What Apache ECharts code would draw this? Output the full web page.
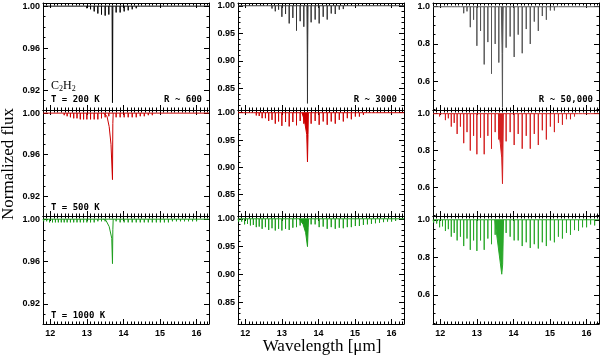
<!DOCTYPE html>
<html>
<head>
<meta charset="utf-8">
<script src="https://cdn.jsdelivr.net/npm/echarts@6/dist/echarts.min.js"></script>
<style>
  html, body { margin: 0; padding: 0; background: #fff; }
  #chart { width: 600px; height: 360px; }
</style>
</head>
<body>
<div id="chart"></div>
<script>
    // line centres (micron), R branch and P branch
    const rLines = [11.82, 11.90, 11.98, 12.06, 12.14, 12.22, 12.30, 12.38, 12.46, 12.55, 12.64,
                    12.73, 12.82, 12.91, 13.00, 13.10, 13.20, 13.30, 13.40, 13.50, 13.60];
    const pLines = [13.80, 13.91, 14.02, 14.13, 14.24, 14.35, 14.46, 14.57, 14.68, 14.79, 14.90, 15.01,
                    15.12, 15.23, 15.34, 15.45, 15.56, 15.67, 15.78, 15.89, 16.00, 16.11, 16.22];

    // R ~ 600
    const lo200R = [1, 1, 1, 1, 1, 1, 1, 1, 1, 1, 1, 1, 1, 0.999, 0.998, 0.997, 0.995, 0.993, 0.992, 0.991, 0.992];
    const lo200P = [0.994, 0.994, 0.995, 0.996, 0.997, 0.998, 0.999, 1, 1, 1, 1, 1, 1, 1, 1, 1, 1, 1, 1, 1, 1, 1, 1];
    const lo200Qx = [13.69, 13.70, 13.71];
    const lo200Qy = [1, 0.908, 1];

    const lo500R = [1, 1, 1, 1, 1, 1, 0.999, 0.998, 0.997, 0.996, 0.995, 0.995, 0.994, 0.994, 0.994, 0.994, 0.994, 0.994, 0.995, 0.996, 0.997];
    const lo500P = [0.996, 0.996, 0.996, 0.996, 0.996, 0.996, 0.997, 0.997, 0.998, 0.998, 0.999, 1, 1, 1, 1, 1, 1, 1, 1, 1, 1, 1, 1];
    const lo500Qx = [13.45, 13.55, 13.61, 13.66, 13.70, 13.71, 13.72];
    const lo500Qy = [1, 0.997, 0.987, 0.970, 0.936, 0.990, 1];

    const lo1000R = [0.998, 0.998, 0.997, 0.997, 0.997, 0.997, 0.997, 0.997, 0.997, 0.997, 0.997, 0.997, 0.997, 0.997, 0.997, 0.997, 0.997, 0.998, 0.998, 0.998, 0.999];
    const lo1000P = [0.998, 0.997, 0.997, 0.997, 0.997, 0.997, 0.997, 0.997, 0.997, 0.997, 0.997, 0.997, 0.997, 0.997, 0.998, 0.998, 0.998, 0.998, 0.998, 0.998, 0.998, 0.999, 0.999];
    const lo1000Qx = [13.45, 13.52, 13.61, 13.68, 13.70, 13.71, 13.72];
    const lo1000Qy = [1, 0.999, 0.993, 0.982, 0.958, 0.990, 1];

    // R ~ 3000
    const mid200R = [1, 1, 1, 1, 1, 1, 1, 1, 1, 0.999, 0.997, 0.995, 0.990, 0.993, 0.980, 0.985, 0.968, 0.978, 0.955, 0.972, 0.962];
    const mid200P = [0.970, 0.975, 0.968, 0.980, 0.975, 0.986, 0.985, 0.993, 0.994, 0.997, 0.998, 1, 1, 1, 1, 1, 1, 1, 1, 1, 1, 1, 1];
    const mid200Qx = [13.685, 13.695, 13.70, 13.705, 13.715];
    const mid200Qy = [1, 0.914, 0.823, 0.914, 1];

    const mid500R = [1, 1, 1, 1, 0.999, 0.998, 0.995, 0.994, 0.990, 0.990, 0.985, 0.987, 0.980, 0.984, 0.976, 0.983, 0.975, 0.983, 0.977, 0.985, 0.980];
    const mid500P = [0.980, 0.985, 0.978, 0.984, 0.978, 0.984, 0.980, 0.987, 0.984, 0.990, 0.988, 0.993, 0.993, 0.996, 0.997, 0.998, 0.999, 1, 1, 1, 1, 1, 1];
    const mid500Qx = [13.55, 13.62, 13.68, 13.70, 13.715, 13.725];
    const mid500Qy = [1, 0.985, 0.960, 0.910, 0.960, 1];

    const mid1000R = [0.995, 0.995, 0.990, 0.991, 0.988, 0.989, 0.985, 0.986, 0.982, 0.985, 0.980, 0.983, 0.979, 0.982, 0.979, 0.982, 0.980, 0.984, 0.985, 0.988, 0.990];
    const mid1000P = [0.990, 0.990, 0.985, 0.986, 0.982, 0.985, 0.982, 0.984, 0.983, 0.985, 0.985, 0.987, 0.987, 0.989, 0.990, 0.991, 0.992, 0.993, 0.994, 0.995, 0.995, 0.996, 0.997];
    const mid1000Qx = [13.47, 13.58, 13.65, 13.70, 13.72, 13.73];
    const mid1000Qy = [1, 0.990, 0.975, 0.950, 0.985, 1];

    // R ~ 50,000
    const hi200R = [1, 1, 1, 1, 1, 1, 0.999, 0.998, 0.995, 0.993, 0.965, 0.975, 0.89, 0.93, 0.79, 0.87, 0.69, 0.81, 0.64, 0.80, 0.70];
    const hi200P = [0.78, 0.84, 0.73, 0.85, 0.75, 0.88, 0.80, 0.92, 0.87, 0.95, 0.93, 0.98, 0.98, 0.995, 1, 1, 1, 1, 1, 1, 1, 1, 1];
    const hi200Qx = [13.67, 13.69, 13.70, 13.705, 13.72];
    const hi200Qy = [1, 0.75, 0.46, 0.75, 1];

    const hi500R = [0.995, 0.997, 0.985, 0.99, 0.965, 0.975, 0.93, 0.95, 0.89, 0.93, 0.84, 0.90, 0.80, 0.88, 0.78, 0.87, 0.78, 0.88, 0.81, 0.90, 0.86];
    const hi500P = [0.85, 0.90, 0.83, 0.89, 0.81, 0.88, 0.81, 0.89, 0.83, 0.91, 0.86, 0.93, 0.90, 0.95, 0.94, 0.97, 0.97, 0.985, 0.99, 0.995, 0.997, 0.999, 1];
    const hi500Qx = [13.59, 13.60, 13.64, 13.68, 13.70, 13.71, 13.725];
    const hi500Qy = [1, 0.90, 0.84, 0.76, 0.62, 0.76, 1];

    const hi1000R = [0.985, 0.98, 0.96, 0.965, 0.94, 0.95, 0.91, 0.93, 0.89, 0.91, 0.86, 0.90, 0.84, 0.89, 0.834, 0.89, 0.84, 0.90, 0.87, 0.92, 0.92];
    const hi1000P = [0.93, 0.91, 0.89, 0.89, 0.86, 0.88, 0.85, 0.87, 0.847, 0.88, 0.86, 0.89, 0.88, 0.91, 0.90, 0.93, 0.92, 0.945, 0.94, 0.96, 0.96, 0.975, 0.97];
    const hi1000Qx = [13.49, 13.68, 13.705, 13.73];
    const hi1000Qy = [1, 0.71, 0.76, 1];

    const tempLabels = ['T = 200 K', 'T = 500 K', 'T = 1000 K'];
    const resLabels = ['R ~ 600', 'R ~ 3000', 'R ~ 50,000'];

    const xMin = 11.8, xMax = 16.34;
    const yMin = [0.901, 0.811, 0.445];
    const yMax = [1.003, 1.005, 1.02];
    const yStep = [0.04, 0.05, 0.2];
    const yMinorSplit = [4, 5, 4];
    const yDecimals = [2, 2, 1];

    const colLeft = [43, 238, 433];
    const colWidth = 166;
    const rowTop = [3, 110, 216];
    const rowHeight = [107, 106, 108];
    const rowColor = [['#000', '#333', '#555'], ['#cc0000', '#cc0000', '#d42020'], ['#1d9d1d', '#1d9d1d', '#2aa82a']];

    const panels = [
        { col: 0, row: 0, R: lo200R, P: lo200P, qx: lo200Qx, qy: lo200Qy },
        { col: 0, row: 1, R: lo500R, P: lo500P, qx: lo500Qx, qy: lo500Qy },
        { col: 0, row: 2, R: lo1000R, P: lo1000P, qx: lo1000Qx, qy: lo1000Qy },
        { col: 1, row: 0, R: mid200R, P: mid200P, qx: mid200Qx, qy: mid200Qy },
        { col: 1, row: 1, R: mid500R, P: mid500P, qx: mid500Qx, qy: mid500Qy },
        { col: 1, row: 2, R: mid1000R, P: mid1000P, qx: mid1000Qx, qy: mid1000Qy },
        { col: 2, row: 0, R: hi200R, P: hi200P, qx: hi200Qx, qy: hi200Qy },
        { col: 2, row: 1, R: hi500R, P: hi500P, qx: hi500Qx, qy: hi500Qy },
        { col: 2, row: 2, R: hi1000R, P: hi1000P, qx: hi1000Qx, qy: hi1000Qy },
    ];

    const labelFont = { fontFamily: 'Liberation Sans', fontWeight: 'bold', fontSize: 9, color: '#000' };
    const black = { color: '#000', width: 1 };

    // every line drawn as a spike down from the continuum
    function spikeData(rDepth, pDepth) {
        const xs = rLines.concat(pLines);
        const ds = rDepth.concat(pDepth);
        const pts = [[xMin, 1]];
        xs.forEach((x, i) => {
            if (ds[i] < 1) pts.push([x, 1], [x, ds[i]], [x, 1]);
        });
        pts.push([xMax, 1]);
        return pts;
    }

    function makeX(k, pos, showLabel) {
        return {
            type: 'value', gridIndex: k, position: pos, min: xMin, max: xMax,
            minInterval: 1, maxInterval: 1,
            axisLine: { show: true, onZero: false, lineStyle: black },
            axisTick: { show: true, inside: true, length: 5, lineStyle: black },
            minorTick: { show: true, splitNumber: 10, length: 2.5, lineStyle: black },
            splitLine: { show: false },
            axisLabel: {
                show: showLabel, margin: 5, ...labelFont,
                formatter: v => Math.abs(v - Math.round(v)) < 1e-6 ? String(Math.round(v)) : ''
            }
        };
    }

    function makeY(k, pos, c, showLabel) {
        const step = yStep[c];
        return {
            type: 'value', gridIndex: k, position: pos, min: yMin[c], max: yMax[c],
            minInterval: step, maxInterval: step,
            axisLine: { show: true, onZero: false, lineStyle: black },
            axisTick: { show: true, inside: true, length: 5, lineStyle: black },
            minorTick: { show: true, splitNumber: yMinorSplit[c], length: 2.5, lineStyle: black },
            splitLine: { show: false },
            axisLabel: {
                show: showLabel, margin: 3, ...labelFont,
                formatter: v => {
                    const n = v / step;
                    return Math.abs(n - Math.round(n)) < 1e-6 ? v.toFixed(yDecimals[c]) : '';
                }
            }
        };
    }

    const option = { animation: false, grid: [], xAxis: [], yAxis: [], series: [], graphic: [] };

    panels.forEach((p, k) => {
        const c = p.col, r = p.row;
        const color = rowColor[r][c];
        option.grid.push({
            left: colLeft[c], top: rowTop[r], width: colWidth, height: rowHeight[r],
            containLabel: false, outerBoundsMode: 'none'
        });
        option.xAxis.push(makeX(k, 'bottom', r === 2), makeX(k, 'top', false));
        option.yAxis.push(makeY(k, 'left', c, true), makeY(k, 'right', c, false));
        option.series.push({
            type: 'line', xAxisIndex: 2 * k, yAxisIndex: 2 * k,
            data: spikeData(p.R, p.P), showSymbol: false, symbol: 'none',
            lineStyle: { color: color, width: 1 }
        });
        const q = {
            type: 'line', xAxisIndex: 2 * k, yAxisIndex: 2 * k,
            data: p.qx.map((x, i) => [x, p.qy[i]]), showSymbol: false, symbol: 'none',
            lineStyle: { color: color, width: 1 }
        };
        if (c > 0) q.areaStyle = { color: color, opacity: 1, origin: 1 };
        option.series.push(q);
    });

    const mono = 'bold 9px "DejaVu Sans Mono"';
    tempLabels.forEach((t, r) => {
        option.graphic.push({
            type: 'text', x: 51, y: [100, 208, 316][r],
            style: { text: t, font: mono, fill: '#000', align: 'left', verticalAlign: 'middle',
                     textAlign: 'left', textVerticalAlign: 'middle' }
        });
    });
    resLabels.forEach((t, c) => {
        option.graphic.push({
            type: 'text', x: [202, 397, 593][c], y: 100,
            style: { text: t, font: mono, fill: '#000', align: 'right', verticalAlign: 'middle',
                     textAlign: 'right', textVerticalAlign: 'middle' }
        });
    });
    option.graphic.push({
        type: 'text', x: 51, y: 86,
        style: {
            text: '{c|C}{s|2}{c|H}{s|2}', fill: '#000', align: 'left', verticalAlign: 'middle',
            textAlign: 'left', textVerticalAlign: 'middle',
            rich: {
                c: { fontFamily: 'Liberation Serif', fontSize: 12, lineHeight: 14, fill: '#000' },
                s: { fontFamily: 'Liberation Serif', fontSize: 8, lineHeight: 8, verticalAlign: 'bottom', fill: '#000' }
            }
        }
    });
    option.graphic.push({
        type: 'text', x: 9, y: 164, rotation: Math.PI / 2,
        style: { text: 'Normalized flux', font: '17px "Liberation Serif"', fill: '#000',
                 align: 'center', verticalAlign: 'middle', textAlign: 'center', textVerticalAlign: 'middle' }
    });
    option.graphic.push({
        type: 'text', x: 322, y: 347,
        style: { text: 'Wavelength [\u03bcm]', font: '17px "Liberation Serif"', fill: '#000',
                 align: 'center', verticalAlign: 'middle', textAlign: 'center', textVerticalAlign: 'middle' }
    });

    const chart = echarts.init(document.getElementById('chart'), null, { renderer: 'canvas' });
    chart.setOption(option);
</script>
</body>
</html>
